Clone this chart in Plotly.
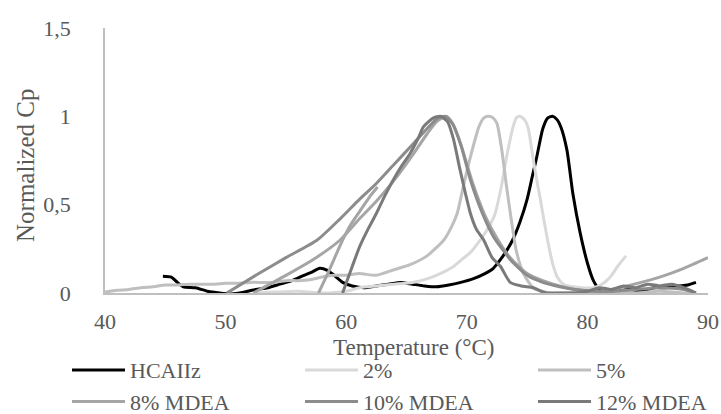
import plotly.graph_objects as go

# ---- data ----
hcaiiz_t = [44.8, 45.5, 46.0, 46.5, 47.5, 48.5, 49.5, 50.5, 51.5, 52.5, 53.5, 54.5, 55.5, 56.5, 57.2, 57.8, 58.4,
            59.0, 59.7, 60.5, 61.5, 62.5, 63.5, 64.5, 65.5, 66.5, 67.5, 68.5, 69.5, 70.5, 71.5, 72.2, 72.8, 73.3,
            73.8, 74.4, 75.0, 75.4, 75.8, 76.3, 76.7, 77.1, 77.5, 77.8, 78.3, 78.8, 79.4, 80.0, 80.5, 81.0, 81.5,
            82.5, 83.5, 84.5, 85.5, 86.5, 87.5, 88.3, 89.0]
hcaiiz_y = [0.095, 0.09, 0.06, 0.035, 0.03, 0.01, 0.0, -0.005, 0.005, 0.02, 0.03, 0.05, 0.07, 0.1, 0.12, 0.14, 0.13,
            0.1, 0.06, 0.04, 0.03, 0.04, 0.05, 0.06, 0.05, 0.04, 0.035, 0.045, 0.06, 0.08, 0.11, 0.14, 0.19, 0.24,
            0.3, 0.4, 0.53, 0.65, 0.77, 0.93, 0.99, 1.0, 0.98, 0.94, 0.81, 0.56, 0.34, 0.17, 0.07, 0.02, 0.005,
            0.01, 0.02, 0.01, 0.03, 0.03, 0.04, 0.045, 0.06]

p2_t = [52.3, 54.0, 56.0, 58.0, 60.0, 61.1, 62.5, 64.0, 65.5, 66.7, 67.8, 68.9, 69.6, 70.3, 71.0, 71.7, 72.3, 72.8,
        73.3, 73.8, 74.1, 74.4, 74.8, 75.1, 75.5, 75.8, 76.1, 76.4, 76.7, 77.1, 77.5, 78.0, 78.8, 79.5, 80.5, 81.1,
        81.6, 82.0, 82.5, 83.2]
p2_y = [0.0, 0.005, 0.01, 0.0, 0.01, 0.03, 0.04, 0.05, 0.06, 0.08, 0.11, 0.15, 0.19, 0.23, 0.29, 0.36, 0.44, 0.58,
        0.77, 0.93, 0.99, 1.0, 0.98, 0.93, 0.76, 0.64, 0.53, 0.41, 0.3, 0.17, 0.09, 0.05, 0.035, 0.03, 0.03, 0.045,
        0.07, 0.1, 0.15, 0.21]

p5_t = [40, 41, 42, 43, 44, 45, 46, 47, 48, 49, 50, 51, 52, 53, 54, 55, 56, 57, 58, 59, 60, 61.1, 62.5, 63.9, 65.3,
        66.7, 68.1, 68.7, 69.2, 69.7, 70.3, 71.0, 71.4, 71.8, 72.2, 72.5, 72.9, 73.3, 73.7, 74.1, 74.7, 75.5, 76.6,
        78, 80, 82, 84, 86, 88, 89]
p5_y = [0.005, 0.015, 0.02, 0.03, 0.035, 0.045, 0.045, 0.05, 0.05, 0.05, 0.055, 0.055, 0.06, 0.06, 0.06, 0.07, 0.07,
        0.075, 0.09, 0.1, 0.1, 0.11, 0.1, 0.13, 0.16, 0.21, 0.3, 0.37, 0.45, 0.6, 0.77, 0.94, 0.99, 1.0, 0.99, 0.96,
        0.81, 0.6, 0.41, 0.24, 0.11, 0.03, 0.005, 0.0, 0.005, 0.01, 0.0, 0.01, 0.0, 0.0]

# 8% MDEA: a short steep segment (57.7-62.6 °C) drawn separately, then the main curve
m8_t = [57.7, 58.6, 59.5, 60.4, 61.3, 62.0, 62.6, None,
        52.3, 55.0, 57.5, 59.5, 61.1, 62.5, 64.0, 65.5, 66.7, 67.5, 68.3, 68.9, 69.6, 70.5, 71.5, 72.5, 73.6, 75.0,
        76.3, 77.7, 79.0, 80.5, 82.0, 83.3, 85.0, 86.0, 88.0, 90.0]
m8_y = [0.0, 0.13, 0.27, 0.39, 0.48, 0.55, 0.6, None,
        0.0, 0.1, 0.2, 0.3, 0.42, 0.52, 0.64, 0.78, 0.9, 0.97, 1.0, 0.95, 0.82, 0.62, 0.44, 0.31, 0.2, 0.11,
        0.07, 0.04, 0.02, 0.01, 0.02, 0.04, 0.07, 0.09, 0.14, 0.2]

m10_t = [50.1, 52.5, 55.0, 57.6, 59.5, 61.1, 62.5, 64.0, 65.5, 66.7, 67.6, 68.2, 68.8, 69.5, 70.3, 71.3, 72.2, 73.6,
         75.0, 76.3, 77.7, 79.0, 80.5, 82.0, 84.0, 86.0, 88.0, 89.0]
m10_y = [0.0, 0.1, 0.2, 0.3, 0.42, 0.53, 0.62, 0.73, 0.84, 0.93, 0.99, 1.0, 0.96, 0.84, 0.64, 0.45, 0.32, 0.19,
         0.1, 0.06, 0.035, 0.02, 0.01, 0.01, 0.02, 0.03, 0.02, 0.0]

m12_t = [59.7, 60.5, 61.1, 61.8, 62.5, 63.2, 63.9, 64.6, 65.3, 66.0, 66.4, 67.2, 67.8, 68.4, 68.9, 69.4, 69.9, 70.3,
         70.8, 71.4, 72.1, 72.8, 73.6, 74.5, 75.5, 76.6, 78.0, 79.0, 80.0, 81.0, 82.0, 83.0, 84.0, 85.0, 86.0, 87.0,
         88.0, 89.0]
m12_y = [0.0, 0.15, 0.26, 0.36, 0.45, 0.55, 0.64, 0.72, 0.79, 0.88, 0.94, 0.99, 1.0, 0.97, 0.87, 0.71, 0.56, 0.45,
         0.36, 0.3, 0.2, 0.15, 0.06, 0.04, 0.03, 0.0, 0.0, 0.0, 0.01, 0.03, 0.02, 0.04, 0.03, 0.05, 0.04, 0.05,
         0.03, 0.0]

series_names = ["HCAIIz", "2%", "5%", "8% MDEA", "10% MDEA", "12% MDEA"]
series_t = [hcaiiz_t, p2_t, p5_t, m8_t, m10_t, m12_t]
series_y = [hcaiiz_y, p2_y, p5_y, m8_y, m10_y, m12_y]
series_colors = ["#000000", "#d9d9d9", "#bfbfbf", "#a5a5a5", "#8c8c8c", "#7a7a7a"]

x_ticks = [40, 50, 60, 70, 80, 90]
y_ticks = [0, 0.5, 1, 1.5]
x_title = "Temperature (°C)"
y_title = "Normalized Cp"

FONT = "Liberation Serif"
TXT = "#595959"

fig = go.Figure()
for name, t, y, c in zip(series_names, series_t, series_y, series_colors):
    fig.add_trace(go.Scatter(x=t, y=y, name=name, mode="lines", connectgaps=False,
                             line=dict(color=c, width=3, shape="spline", smoothing=0.6)))

fig.update_layout(
    width=721, height=414,
    margin=dict(l=105, r=13, t=28, b=121, autoexpand=False),
    paper_bgcolor="white", plot_bgcolor="white",
    separators=", ",
    font=dict(family=FONT, color=TXT, size=22),
    showlegend=True,
    legend=dict(orientation="h", x=-0.063, xanchor="left", y=-0.2117, yanchor="top",
                entrywidth=165, entrywidthmode="pixels", itemwidth=53,
                font=dict(family=FONT, size=22, color=TXT), tracegroupgap=0,
                bgcolor="rgba(0,0,0,0)"),
)
fig.update_xaxes(range=[40, 90], tickvals=x_ticks, showgrid=False, zeroline=False,
                 showline=True, linecolor="#bfbfbf", linewidth=1.5,
                 ticks="outside", ticklen=8, tickcolor="rgba(0,0,0,0)",
                 tickfont=dict(family=FONT, size=22, color=TXT))
fig.update_yaxes(range=[0, 1.5], tickvals=y_ticks, showgrid=False, zeroline=False,
                 showline=True, linecolor="#bfbfbf", linewidth=1.5,
                 ticks="outside", ticklen=28, tickcolor="rgba(0,0,0,0)",
                 tickfont=dict(family=FONT, size=22, color=TXT))
fig.add_annotation(text=x_title, xref="paper", yref="paper", x=0.512, y=-0.204,
                   xanchor="center", yanchor="middle", showarrow=False,
                   font=dict(family=FONT, size=23, color=TXT))
fig.add_annotation(text=y_title, xref="paper", yref="paper", x=-0.1327, y=0.483,
                   xanchor="center", yanchor="middle", showarrow=False, textangle=-90,
                   font=dict(family=FONT, size=25, color=TXT))

# remove the default 8px page margin so the 721x414 figure fills the window exactly
fig.write_html("out.html", config={"displayModeBar": False},
               post_script="document.body.style.margin='0';document.body.style.overflow='hidden';")
